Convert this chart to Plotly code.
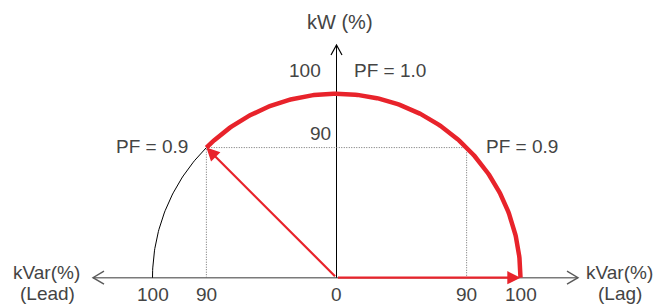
import numpy as np
import plotly.graph_objects as go

# ---- data (schematic power-factor diagram) ----
radius = 100                      # 100 % apparent power
pf_angle_deg = 45                 # schematic angle of the PF = 0.9 vector
tick_pos = [-100, -70.7, 0, 70.7, 100]
tick_labels = ["100", "90", "0", "90", "100"]
kw_label_90 = "90"
kw_label_100 = "100"
pf_labels = ["PF = 0.9", "PF = 1.0", "PF = 0.9"]

# ---- layout geometry (pixels) ----
W, H = 666, 304
X0, Y0, S = 336.5, 277.7, 1.84
xr = [-X0 / S, (W - X0) / S]
yr = [-(H - Y0) / S, Y0 / S]

RED = "#e8232b"
TXT = "#444444"
FONT = dict(family="Liberation Sans, Arial, sans-serif", size=19, color=TXT)

px2x = lambda p: (p - X0) / S
py2y = lambda p: (Y0 - p) / S

fig = go.Figure()

# black thin arc (leading side beyond PF 0.9)
t1 = np.radians(np.linspace(pf_angle_deg + 90, 180, 60))
fig.add_trace(go.Scatter(x=radius * np.cos(t1), y=radius * np.sin(t1), mode="lines",
                         line=dict(color="black", width=1), hoverinfo="skip"))

# dotted guides
px = radius * np.cos(np.radians(pf_angle_deg))
py = radius * np.sin(np.radians(pf_angle_deg))
fig.add_trace(go.Scatter(x=[-px, -px, px, px], y=[0, py, py, 0], mode="lines",
                         line=dict(color="#707070", width=1, dash="1px,1.5px"), hoverinfo="skip"))

# thick red arc
t2 = np.radians(np.linspace(0, pf_angle_deg + 90, 200))
fig.add_trace(go.Scatter(x=radius * np.cos(t2), y=radius * np.sin(t2), mode="lines",
                         line=dict(color=RED, width=4.5), hoverinfo="skip"))

shapes = []
# horizontal axis (gray) and vertical axis (black)
xl, xrgt = px2x(93), px2x(578)
ytop = py2y(45)
shapes.append(dict(type="line", x0=xl, y0=0, x1=xrgt, y1=0, xref="x", yref="y",
                   line=dict(color="#7a7a7a", width=1.6), layer="below"))
shapes.append(dict(type="line", x0=0, y0=0, x1=0, y1=ytop, xref="x", yref="y",
                   line=dict(color="black", width=1), layer="below"))
# chevrons
cl, ch = 11 / S, 6.5 / S
shapes.append(dict(type="path", xref="x", yref="y",
                   path=f"M{xl+cl},{ch} L{xl},0 L{xl+cl},{-ch}",
                   line=dict(color="#5a5a5a", width=1.4)))
shapes.append(dict(type="path", xref="x", yref="y",
                   path=f"M{xrgt-cl},{ch} L{xrgt},0 L{xrgt-cl},{-ch}",
                   line=dict(color="#5a5a5a", width=1.4)))
vl, vh = 10 / S, 5.5 / S
shapes.append(dict(type="path", xref="x", yref="y",
                   path=f"M{-vh},{ytop-vl} L0,{ytop} L{vh},{ytop-vl}",
                   line=dict(color="black", width=1.2)))

ann = []
# red arrows
ann.append(dict(x=radius, y=0, ax=0, ay=0, xref="x", yref="y", axref="x", ayref="y",
                showarrow=True, arrowhead=2, arrowsize=1.2, arrowwidth=2.2,
                arrowcolor=RED, standoff=0, text=""))
ann.append(dict(x=-px, y=py, ax=0, ay=0, xref="x", yref="y", axref="x", ayref="y",
                showarrow=True, arrowhead=2, arrowsize=1.2, arrowwidth=2.2,
                arrowcolor=RED, standoff=0, text=""))

def txt(t, x, y, xref="paper", size=19):
    ann.append(dict(text=t, x=x / W if xref == "paper" else x, y=1 - y / H,
                    xref=xref, yref="paper", showarrow=False,
                    xanchor="center", yanchor="middle", font={**FONT, "size": size}))

# tick labels along kVar axis
for p, lab in zip(tick_pos, tick_labels):
    txt(lab, p, 294, xref="x")

txt("kW (%)", 340, 22, size=20)
txt(kw_label_100, 305, 70)
txt(pf_labels[1], 390, 70)
txt(kw_label_90, 320, 133)
txt(pf_labels[0], 152, 146)
txt(pf_labels[2], 522, 146)
txt("kVar(%)", 46, 272)
txt("(Lead)", 47.5, 293)
txt("kVar(%)", 619, 272)
txt("(Lag)", 620, 293)

fig.update_layout(
    width=W, height=H, margin=dict(l=0, r=0, t=0, b=0),
    paper_bgcolor="white", plot_bgcolor="white", showlegend=False,
    xaxis=dict(range=xr, visible=False, fixedrange=True),
    yaxis=dict(range=yr, visible=False, fixedrange=True),
    shapes=shapes, annotations=ann,
)
fig.write_html("out.html", config={"displayModeBar": False},
               post_script="document.body.style.margin='0';")
